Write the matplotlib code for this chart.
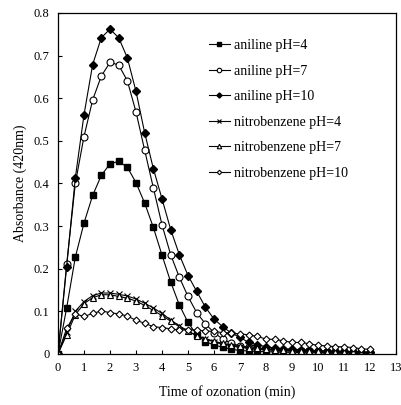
import numpy as np
import matplotlib
matplotlib.use("Agg")
import matplotlib.pyplot as plt

plt.rcParams['font.family'] = ['Liberation Serif', 'DejaVu Serif']

# time of ozonation, every 1/3 min from 0 to 12
t = np.arange(37) / 3.0

aniline_ph4 = [0, 0.108, 0.227, 0.307, 0.372, 0.419, 0.446, 0.452, 0.438, 0.402, 0.354,
               0.297, 0.232, 0.169, 0.115, 0.074, 0.045, 0.029, 0.021, 0.016, 0.011, 0.008,
               0.007, 0.006, 0.005, 0.005, 0.004, 0.004, 0.003, 0.003, 0.003, 0.002, 0.002,
               0.002, 0.002, 0.001, 0.001]
aniline_ph7 = [0, 0.21, 0.40, 0.51, 0.596, 0.652, 0.684, 0.678, 0.641, 0.568, 0.478,
               0.39, 0.303, 0.233, 0.18, 0.135, 0.097, 0.071, 0.05, 0.035, 0.025, 0.019,
               0.016, 0.013, 0.011, 0.01, 0.009, 0.008, 0.007, 0.006, 0.006, 0.005, 0.005,
               0.004, 0.004, 0.004, 0.003]
aniline_ph10 = [0, 0.205, 0.413, 0.561, 0.679, 0.742, 0.762, 0.742, 0.695, 0.616, 0.519,
                0.435, 0.364, 0.292, 0.233, 0.184, 0.147, 0.11, 0.082, 0.064, 0.049, 0.039,
                0.027, 0.022, 0.017, 0.014, 0.012, 0.011, 0.01, 0.009, 0.008, 0.007, 0.006,
                0.006, 0.005, 0.005, 0.004]
nitro_ph4 = [0, 0.052, 0.100, 0.123, 0.137, 0.143, 0.143, 0.140, 0.136, 0.129, 0.119,
             0.108, 0.095, 0.080, 0.066, 0.054, 0.043, 0.035, 0.028, 0.023, 0.019, 0.016,
             0.013, 0.011, 0.01, 0.009, 0.008, 0.007, 0.006, 0.006, 0.005, 0.005, 0.004,
             0.004, 0.003, 0.003, 0.003]
nitro_ph7 = [0, 0.045, 0.092, 0.118, 0.132, 0.139, 0.139, 0.135, 0.131, 0.124, 0.114,
             0.102, 0.09, 0.077, 0.064, 0.053, 0.043, 0.036, 0.03, 0.025, 0.021, 0.018,
             0.015, 0.013, 0.011, 0.01, 0.009, 0.008, 0.007, 0.006, 0.006, 0.005, 0.005,
             0.004, 0.004, 0.003, 0.003]
nitro_ph10 = [0, 0.06, 0.094, 0.088, 0.095, 0.101, 0.097, 0.094, 0.089, 0.079, 0.072,
              0.064, 0.062, 0.059, 0.056, 0.057, 0.056, 0.054, 0.053, 0.05, 0.049, 0.047,
              0.045, 0.041, 0.035, 0.034, 0.031, 0.027, 0.027, 0.024, 0.02, 0.019, 0.017,
              0.017, 0.015, 0.012, 0.011]

labels = ["aniline pH=4", "aniline pH=7", "aniline pH=10",
          "nitrobenzene pH=4", "nitrobenzene pH=7", "nitrobenzene pH=10"]

fig = plt.figure(figsize=(4.01, 4.05), dpi=100)
ax = fig.add_axes([0.1446, 0.126, 0.843, 0.842])

lw = 0.8
ax.plot(t, aniline_ph4, '-', color='black', lw=lw, marker='s', ms=5,
        mfc='black', mec='black', label=labels[0])
ax.plot(t, aniline_ph7, '-', color='black', lw=lw, marker='o', ms=5,
        mfc='white', mec='black', mew=0.8, label=labels[1])
ax.plot(t, aniline_ph10, '-', color='black', lw=lw, marker='D', ms=4,
        mfc='black', mec='black', label=labels[2])
ax.plot(t, nitro_ph4, '-', color='black', lw=lw, marker='x', ms=5,
        mec='black', mew=0.8, label=labels[3])
ax.plot(t, nitro_ph7, '-', color='black', lw=lw, marker='^', ms=5,
        mfc='white', mec='black', mew=0.8, label=labels[4])
ax.plot(t, nitro_ph10, '-', color='black', lw=lw, marker='D', ms=3.5,
        mfc='white', mec='black', mew=0.8, label=labels[5])

ax.set_xlim(0, 13)
ax.set_ylim(0, 0.8)
ax.set_xticks(range(0, 14))
ax.set_yticks([0, 0.1, 0.2, 0.3, 0.4, 0.5, 0.6, 0.7, 0.8])
ax.set_yticklabels(["0", "0.1", "0.2", "0.3", "0.4", "0.5", "0.6", "0.7", "0.8"])
ax.tick_params(direction='in', length=3, width=0.8, labelsize=9, pad=6)
for s in ax.spines.values():
    s.set_linewidth(0.9)

ax.set_xlabel("Time of ozonation (min)", fontsize=10, labelpad=8)
ax.set_ylabel("Absorbance (420nm)", fontsize=10, labelpad=5)

leg = ax.legend(loc='upper left', bbox_to_anchor=(0.41, 0.96), frameon=False,
                fontsize=10, handlelength=1.5, handletextpad=0.3,
                labelspacing=0.9, markerscale=0.65)

fig.savefig("out.png", dpi=100)
